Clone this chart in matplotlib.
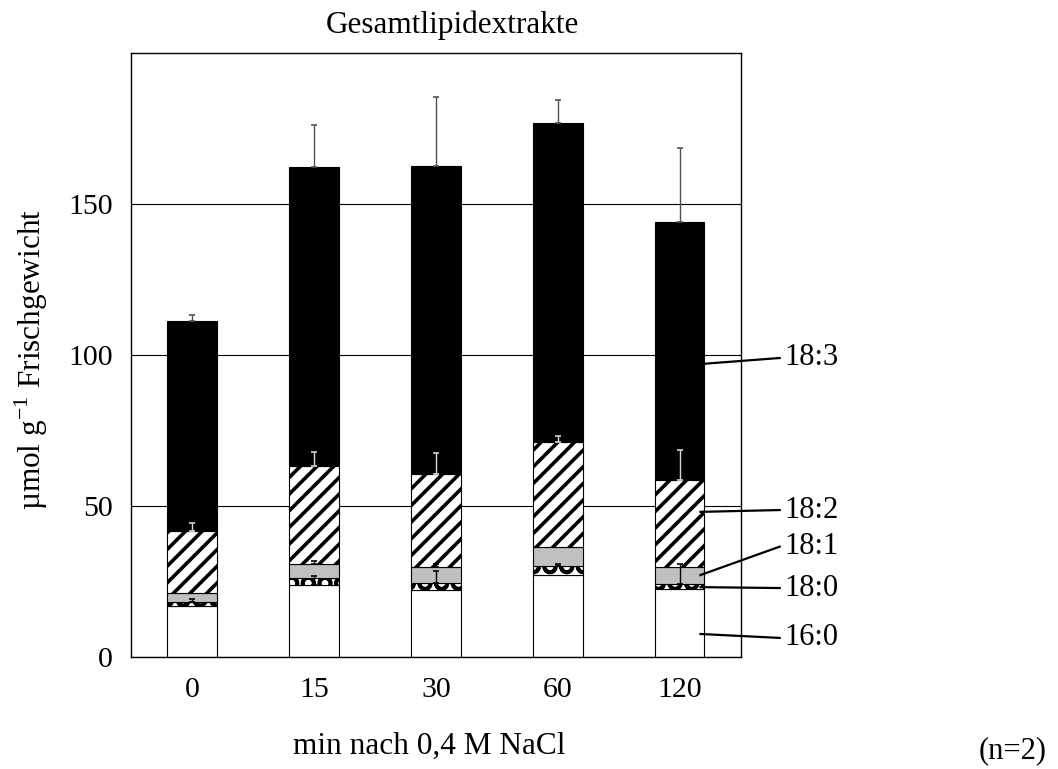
import matplotlib
matplotlib.use('Agg')
import matplotlib.pyplot as plt
import numpy as np

plt.rcParams['font.family'] = ['Liberation Serif', 'DejaVu Serif']
plt.rcParams['mathtext.fontset'] = 'custom'
plt.rcParams['mathtext.rm'] = 'Liberation Serif'
plt.rcParams['hatch.linewidth'] = 2.6

zeit = ['0', '15', '30', '60', '120']
fa_16_0 = [16.8, 24.0, 22.2, 27.3, 22.5]
fa_18_0 = [1.5, 2.2, 2.5, 2.9, 1.9]
fa_18_1 = [2.8, 4.8, 5.3, 6.4, 5.3]
fa_18_2 = [20.6, 32.3, 30.5, 34.5, 29.0]
fa_18_3 = [69.4, 98.8, 101.9, 105.5, 85.3]

# nur obere Fehlerbalken sichtbar
err_16_0 = [0.0, 2.9, 0.0, 0.0, 0.0]
err_18_0 = [1.1, 0.0, 3.7, 0.8, 6.3]
err_18_1 = [0.0, 0.8, 1.0, 0.0, 0.0]
err_18_2 = [2.7, 4.6, 7.0, 2.0, 10.0]
err_18_3 = [2.2, 14.0, 23.0, 7.6, 24.6]

namen = ['16:0', '18:0', '18:1', '18:2', '18:3']
# Beschriftung rechts: Hoehe des Textes und Ansatzpunkt im letzten Balken
label_y = [6.4, 22.9, 36.6, 48.7, 99.0]
anker_y = [7.7, 23.2, 27.2, 48.1, 97.0]

werte = [fa_16_0, fa_18_0, fa_18_1, fa_18_2, fa_18_3]
fehler = [err_16_0, err_18_0, err_18_1, err_18_2, err_18_3]
farben = ['white', 'white', '#c0c0c0', 'white', 'black']
muster = [None, 'O', None, '//', None]
err_farbe = ['black', 'black', 'black', '#d8d8d8', '#505050']

fig = plt.figure(figsize=(10.58, 7.69), dpi=100)
ax = fig.add_axes([0.1238, 0.1453, 0.5763, 0.7862])

x = np.arange(len(zeit))
breite = 0.406
unten = np.zeros(len(zeit))
oben_liste = []
for k in range(len(werte)):
    v = np.array(werte[k])
    ax.bar(x, v, breite, bottom=unten, color=farben[k], edgecolor='black',
           linewidth=0.8, hatch=muster[k], zorder=2)
    unten = unten + v
    oben_liste.append(unten.copy())

for k in range(len(werte)):
    e = np.array(fehler[k])
    m = e > 0
    ax.errorbar(x[m], oben_liste[k][m], yerr=[np.zeros(m.sum()), e[m]],
                fmt='none', ecolor=err_farbe[k], elinewidth=1.0,
                capsize=2.5, capthick=1.2, zorder=3)

ax.set_xlim(-0.5, len(zeit) - 0.5)
ax.set_ylim(0, 200)
ax.set_yticks([0, 50, 100, 150])
ax.set_xticks(x)
ax.set_xticklabels(zeit)
ax.tick_params(axis='both', length=0, labelsize=21.5)
ax.tick_params(axis='y', pad=13)
ax.tick_params(axis='x', pad=14)
ax.yaxis.grid(True, color='black', linewidth=0.8)
ax.set_axisbelow(True)
for s in ax.spines.values():
    s.set_linewidth(1.0)

# Fettsaeure-Beschriftungen am letzten Balken
x_start = x[-1] + 0.17
x_ende = x[-1] + 0.82
for k in range(len(namen)):
    ax.plot([x_start, x_ende], [anker_y[k], label_y[k]], color='black',
            linewidth=1.6, clip_on=False, zorder=4)
    ax.text(x_ende + 0.04, label_y[k], namen[k], fontsize=22, va='center',
            ha='left', clip_on=False)

fig.text(452 / 1058, 1 - 33 / 769, 'Gesamtlipidextrakte', fontsize=22.5,
         ha='center', va='baseline')
fig.text(429 / 1058, 1 - 754 / 769, 'min nach 0,4 M NaCl', fontsize=22.5,
         ha='center', va='baseline')
fig.text(31 / 1058, 1 - 359 / 769, r'µmol g$^{-1}$ Frischgewicht',
         fontsize=22.5, rotation=90, ha='center', va='center')
fig.text(1013 / 1058, 1 - 758 / 769, '(n=2)', fontsize=22,
         ha='center', va='baseline')

fig.savefig('out.png', dpi=100)
